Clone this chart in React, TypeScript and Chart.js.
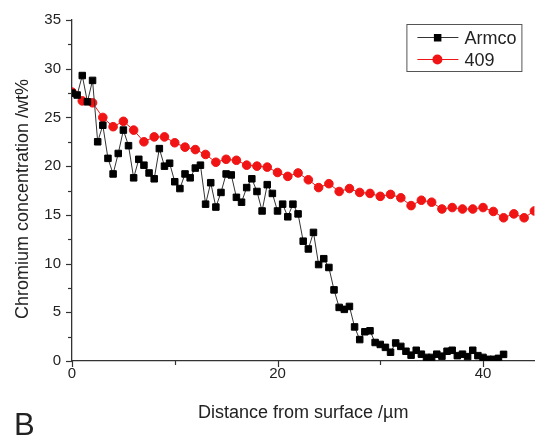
import React, { useEffect, useRef } from "react";
import { Chart, registerables } from "chart.js";

Chart.register(...registerables);

// ---- data ----
const seriesNames = ["Armco", "409"];

const armcoDepth = [
  0, 0.5, 1, 1.5, 2, 2.5, 3, 3.5, 4, 4.5, 5, 5.5, 6, 6.5, 7, 7.5, 8, 8.5, 9, 9.5,
  10, 10.5, 11, 11.5, 12, 12.5, 13, 13.5, 14, 14.5, 15, 15.5, 16, 16.5, 17, 17.5, 18, 18.5, 19, 19.5,
  20, 20.5, 21, 21.5, 22, 22.5, 23, 23.5, 24, 24.5, 25, 25.5, 26, 26.5, 27, 27.5, 28, 28.5, 29, 29.5,
  30, 30.5, 31, 31.5, 32, 32.5, 33, 33.5, 34, 34.5, 35, 35.5, 36, 36.5, 37, 37.5, 38, 38.5, 39, 39.5,
  40, 40.5, 41, 41.5, 42,
];
const armcoCr = [
  27.5, 27.3, 29.3, 26.6, 28.8, 22.5, 24.2, 20.8, 19.2, 21.3, 23.7, 22.1, 18.8, 20.7, 20.1, 19.3, 18.7, 21.8, 20.0, 20.3,
  18.4, 17.7, 19.2, 18.8, 19.8, 20.1, 16.1, 18.3, 15.8, 17.3, 19.2, 19.1, 16.8, 16.3, 17.8, 18.7, 17.4, 15.4, 18.1, 17.2,
  15.4, 16.1, 14.8, 16.1, 15.1, 12.3, 11.5, 13.2, 9.9, 10.5, 9.6, 7.3, 5.5, 5.3, 5.6, 3.5, 2.2, 3.0, 3.1, 1.9,
  1.7, 1.4, 0.9, 1.85, 1.5, 1.0, 0.6, 1.1, 0.7, 0.37, 0.37, 0.7, 0.5, 1.0, 1.1, 0.55, 0.7, 0.45, 1.1, 0.55,
  0.37, 0.17, 0.17, 0.27, 0.68,
];

const alloyDepth = [
  0, 1, 2, 3, 4, 5, 6, 7, 8, 9, 10, 11, 12, 13, 14, 15, 16, 17, 18, 19, 20, 21, 22,
  23, 24, 25, 26, 27, 28, 29, 30, 31, 32, 33, 34, 35, 36, 37, 38, 39, 40, 41, 42, 43, 44, 45,
];
const alloyCr = [
  27.6, 26.7, 26.5, 25.0, 24.05, 24.6, 23.7, 22.5, 23.0, 23.0, 22.4, 21.95, 21.7, 21.2, 20.4, 20.7, 20.6, 20.1, 20.0, 19.9, 19.35, 18.95, 19.3,
  18.6, 17.8, 18.2, 17.4, 17.7, 17.3, 17.2, 16.9, 17.1, 16.75, 15.95, 16.5, 16.3, 15.6, 15.75, 15.6, 15.6, 15.75, 15.35, 14.7, 15.1, 14.7, 15.4,
];

const xMajorTicks = [0, 20, 40];
const xMinorTicks = [10, 30];
const yMajorTicks = [0, 5, 10, 15, 20, 25, 30, 35];
const yMinorTicks = [2.5, 7.5, 12.5, 17.5, 22.5, 27.5, 32.5];

const xTitle = "Distance from surface /µm";
const yTitle = "Chromium concentration /wt%";
const panelLabel = "B";

const FONT = 'Arial, "Liberation Sans", sans-serif';
const RED = "#f01414";
const INK = "#222";

const decorPlugin = {
  id: "decor",
  afterDraw(chart: any) {
    const ctx = chart.ctx as CanvasRenderingContext2D;
    const { left, right, top, bottom } = chart.chartArea;
    const xs = chart.scales.x;
    const ys = chart.scales.y;
    ctx.save();
    ctx.strokeStyle = "#333";
    ctx.lineWidth = 1.2;
    // y ticks
    const drawY = (vals: number[], len: number) => {
      vals.forEach((v) => {
        const p = Math.round(ys.getPixelForValue(v)) + 0.5;
        ctx.beginPath();
        ctx.moveTo(left - len, p);
        ctx.lineTo(left, p);
        ctx.stroke();
      });
    };
    const drawX = (vals: number[], len: number) => {
      vals.forEach((v) => {
        const p = Math.round(xs.getPixelForValue(v)) + 0.5;
        ctx.beginPath();
        ctx.moveTo(p, bottom);
        ctx.lineTo(p, bottom + len);
        ctx.stroke();
      });
    };
    drawY(yMajorTicks, 6);
    drawY(yMinorTicks, 4);
    drawX(xMajorTicks, 6);
    drawX(xMinorTicks, 4);

    // titles
    ctx.fillStyle = INK;
    ctx.font = `18px ${FONT}`;
    ctx.textAlign = "center";
    ctx.textBaseline = "alphabetic";
    ctx.fillText(xTitle, (left + right) / 2, 418);
    ctx.save();
    ctx.translate(27.5, 199);
    ctx.rotate(-Math.PI / 2);
    ctx.fillText(yTitle, 0, 0);
    ctx.restore();

    ctx.font = `31px ${FONT}`;
    ctx.textAlign = "left";
    ctx.fillText(panelLabel, 14, 435);

    // legend
    const bx = right - 128;
    const by = top + 4;
    const bw = 115;
    const bh = 47;
    ctx.fillStyle = "#fff";
    ctx.fillRect(bx, by, bw, bh);
    ctx.strokeStyle = "#555";
    ctx.lineWidth = 1;
    ctx.strokeRect(bx + 0.5, by + 0.5, bw, bh);

    const rows = [
      { name: seriesNames[0], y: by + 13, line: "#333", kind: "rect", fill: "#000" },
      { name: seriesNames[1], y: by + 35, line: RED, kind: "circle", fill: RED },
    ];
    rows.forEach((r) => {
      ctx.strokeStyle = r.line;
      ctx.lineWidth = 1;
      ctx.beginPath();
      ctx.moveTo(bx + 11, r.y + 0.5);
      ctx.lineTo(bx + 52, r.y + 0.5);
      ctx.stroke();
      ctx.fillStyle = r.fill;
      const cx = bx + 31;
      if (r.kind === "rect") {
        ctx.fillRect(cx - 3.5, r.y - 3.5 + 0.5, 7.5, 7.5);
      } else {
        ctx.beginPath();
        ctx.arc(cx, r.y + 0.5, 5, 0, Math.PI * 2);
        ctx.fill();
      }
      ctx.fillStyle = INK;
      ctx.font = `18px ${FONT}`;
      ctx.textAlign = "left";
      ctx.textBaseline = "alphabetic";
      ctx.fillText(r.name, bx + 58, r.y + 6.5);
    });
    ctx.restore();
  },
};

export default function App() {
  const ref = useRef<HTMLCanvasElement | null>(null);
  useEffect(() => {
    if (!ref.current) return;
    const chart = new Chart(ref.current, {
      type: "line",
      data: {
        datasets: [
          {
            label: seriesNames[0],
            data: armcoDepth.map((x, i) => ({ x, y: armcoCr[i] })),
            borderColor: "#333",
            borderWidth: 1,
            backgroundColor: "#000",
            pointBackgroundColor: "#000",
            pointBorderColor: "#000",
            pointBorderWidth: 1,
            pointStyle: "rect",
            pointRadius: 4.6,
            tension: 0,
          },
          {
            label: seriesNames[1],
            data: alloyDepth.map((x, i) => ({ x, y: alloyCr[i] })),
            borderColor: RED,
            borderWidth: 1,
            backgroundColor: RED,
            pointBackgroundColor: RED,
            pointBorderColor: RED,
            pointBorderWidth: 1,
            pointStyle: "circle",
            pointRadius: 4.3,
            tension: 0,
          },
        ],
      },
      options: {
        responsive: false,
        animation: false,
        events: [],
        layout: { padding: { left: 0, right: 3, top: 16, bottom: 0 } },
        plugins: { legend: { display: false }, tooltip: { enabled: false } },
        scales: {
          x: {
            type: "linear",
            min: 0,
            max: 45,
            grid: { display: false, drawTicks: false },
            border: { display: true, color: "#333", width: 1.3 },
            ticks: {
              stepSize: 20,
              includeBounds: false,
              padding: 4,
              color: INK,
              font: { family: FONT, size: 15 },
              maxRotation: 0,
            },
            afterFit: (s: any) => {
              s.height = 78;
            },
          },
          y: {
            type: "linear",
            min: 0,
            max: 35,
            grid: { display: false, drawTicks: false },
            border: { display: true, color: "#333", width: 1.3 },
            ticks: {
              stepSize: 5,
              padding: 11,
              color: INK,
              font: { family: FONT, size: 15 },
            },
            afterFit: (s: any) => {
              s.width = 72;
            },
          },
        },
      },
      plugins: [decorPlugin],
    });
    return () => chart.destroy();
  }, []);
  return (
    <div style={{ position: "fixed", left: 0, top: 0, width: 540, height: 439, background: "#fff" }}>
      <canvas ref={ref} width={540} height={439} style={{ width: 540, height: 439, display: "block" }} />
    </div>
  );
}
